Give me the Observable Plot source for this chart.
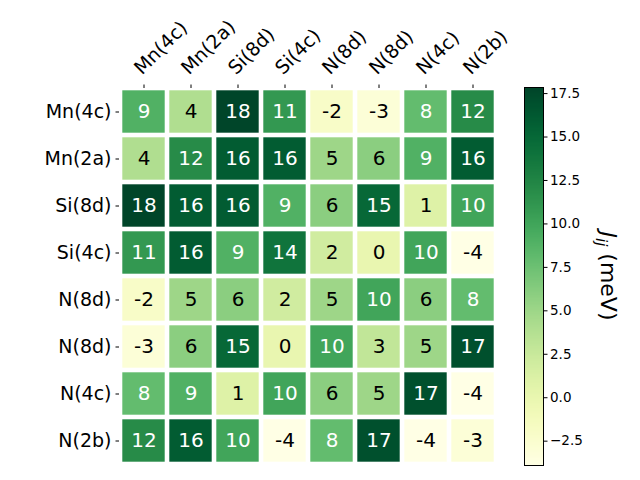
<!DOCTYPE html>
<html>
<head>
<meta charset="utf-8">
<script src="https://cdn.jsdelivr.net/npm/d3@7"></script>
<script src="https://cdn.jsdelivr.net/npm/@observablehq/plot@0.6"></script>
<style>
  html, body { margin: 0; padding: 0; background: white; }
  #wrap { position: relative; width: 640px; height: 480px; }
  #wrap svg { position: absolute; left: 0; top: 0; }
</style>
</head>
<body>
<div id="wrap"></div>
<script>
const colLabels = ["Mn(4c)", "Mn(2a)", "Si(8d)", "Si(4c)", "N(8d)", "N(8d)", "N(4c)", "N(2b)"];
const rowLabels = ["Mn(4c)", "Mn(2a)", "Si(8d)", "Si(4c)", "N(8d)", "N(8d)", "N(4c)", "N(2b)"];
const values = [
  [9, 4, 18, 11, -2, -3, 8, 12],
  [4, 12, 16, 16, 5, 6, 9, 16],
  [18, 16, 16, 9, 6, 15, 1, 10],
  [11, 16, 9, 14, 2, 0, 10, -4],
  [-2, 5, 6, 2, 5, 10, 6, 8],
  [-3, 6, 15, 0, 10, 3, 5, 17],
  [8, 9, 1, 10, 6, 5, 17, -4],
  [12, 16, 10, -4, 8, 17, -4, -3]
];
const colorDomain = [-3.9, 17.85];
const cbTicks = [-2.5, 0, 2.5, 5, 7.5, 10, 12.5, 15, 17.5];

const cells = [];
values.forEach((row, i) => row.forEach((v, j) => cells.push({row: i, col: j, v})));
const idx = d3.range(8);
const font = "DejaVu Sans, sans-serif";
const colorOpts = {type: "linear", scheme: "ylgn", domain: colorDomain, clamp: true};

const main = Plot.plot({
  width: 640, height: 480,
  marginLeft: 119, marginRight: 143, marginTop: 87, marginBottom: 15,
  style: {fontFamily: font, background: "transparent"},
  x: {type: "band", domain: idx, padding: 0, axis: null},
  y: {type: "band", domain: idx, padding: 0, axis: null},
  color: colorOpts,
  marks: [
    Plot.cell(cells, {x: "col", y: "row", fill: "v", inset: 2.3}),
    Plot.text(cells, {x: "col", y: "row", text: d => String(d.v), fill: d => d.v >= 7 ? "white" : "black", fontSize: 20}),
    Plot.axisX({anchor: "top", tickSize: 3.5, tickFormat: () => "", label: null, stroke: "black"}),
    Plot.axisY({anchor: "left", tickSize: 3.5, tickFormat: () => "", label: null, stroke: "black"}),
    Plot.text(idx, {x: d => d, frameAnchor: "top", text: d => colLabels[d], rotate: -45, textAnchor: "start", lineAnchor: "bottom", dx: -2, dy: -12, fontSize: 19, fill: "black"}),
    Plot.text(idx, {y: d => d, frameAnchor: "left", text: d => rowLabels[d], textAnchor: "end", dx: -8, fontSize: 19, fill: "black"})
  ]
});

const cb = Plot.plot({
  width: 640, height: 480,
  marginLeft: 524, marginRight: 97, marginTop: 87, marginBottom: 15,
  style: {fontFamily: font, background: "transparent"},
  x: {domain: [0, 1], axis: null},
  y: {domain: colorDomain},
  color: colorOpts,
  marks: [
    Plot.raster({x1: 0, x2: 1, y1: colorDomain[0], y2: colorDomain[1], width: 1, height: 300, fill: (x, y) => y, imageRendering: "auto"}),
    Plot.frame({stroke: "black", strokeWidth: 1}),
    Plot.axisY({anchor: "right", ticks: cbTicks, tickSize: 3.5, tickPadding: 3, tickFormat: d3.format(".1f"), fontSize: 13.5, label: null, stroke: "black", fill: "black"})
  ]
});

const wrap = document.getElementById("wrap");
wrap.appendChild(main);
wrap.appendChild(cb);

const lab = d3.select(cb).append("text")
  .attr("transform", "translate(601,276) rotate(90)")
  .attr("text-anchor", "middle")
  .attr("font-family", font)
  .attr("font-size", 22)
  .attr("fill", "black");
lab.append("tspan").attr("font-style", "italic").text("J");
lab.append("tspan").attr("font-style", "italic").attr("font-size", 15).attr("dy", 5).text("ij");
lab.append("tspan").attr("dy", -5).text(" (meV)");
</script>
</body>
</html>
